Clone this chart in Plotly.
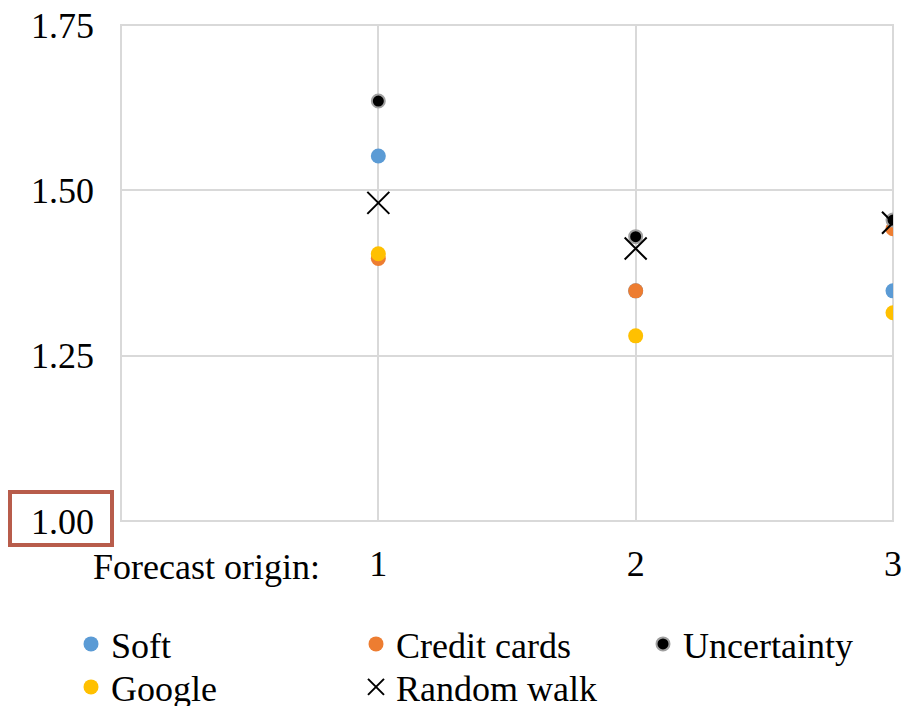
import plotly.graph_objects as go

# Forecast origins and relative error per model
origins = [1, 2, 3]
soft = [1.552, 1.348, 1.348]
credit_cards = [1.397, 1.348, 1.442]
uncertainty = [1.635, 1.430, 1.455]
google = [1.404, 1.280, 1.315]
random_walk = [1.481, 1.412, 1.451]

y_ticks = [1.00, 1.25, 1.50, 1.75]
y_tick_text = ["1.00", "1.25", "1.50", "1.75"]
x_tick_text = ["1", "2", "3"]

W, H = 905, 706
L, R, T, B = 121, 12, 25, 185
PW, PH = W - L - R, H - T - B

def px(x):
    return (x - L) / PW

def py(y):
    return (H - B - y) / PH

FONT = "Liberation Serif"
FS = 36
GRID = "#D9D9D9"

fig = go.Figure()
fig.add_trace(go.Scatter(x=origins, y=soft, mode="markers", name="Soft",
                         marker=dict(color="#5B9BD5", size=15), legend="legend"))
fig.add_trace(go.Scatter(x=origins, y=credit_cards, mode="markers", name="Credit cards",
                         marker=dict(color="#ED7D31", size=15), legend="legend2"))
fig.add_trace(go.Scatter(x=origins, y=uncertainty, mode="markers", name="Uncertainty",
                         marker=dict(color="black", size=13,
                                     line=dict(color="#A0A0A0", width=2)),
                         legend="legend3"))
fig.add_trace(go.Scatter(x=origins, y=google, mode="markers", name="Google",
                         marker=dict(color="#FFC000", size=15), legend="legend4"))
fig.add_trace(go.Scatter(x=origins, y=random_walk, mode="markers", name="Random walk",
                         marker=dict(symbol="x-thin", color="black", size=22,
                                     line=dict(color="black", width=2)),
                         legend="legend5"))

leg_common = dict(font=dict(family=FONT, size=FS, color="black"),
                  bgcolor="rgba(0,0,0,0)", orientation="v",
                  xanchor="left", yanchor="middle",
                  itemwidth=30, tracegroupgap=0)

row1, row2 = py(644), py(687)
col1, col2, col3 = px(71), px(356), px(643)

fig.update_layout(
    width=W, height=H,
    margin=dict(l=L, r=R, t=T, b=B, autoexpand=False),
    paper_bgcolor="white", plot_bgcolor="white",
    font=dict(family=FONT, size=FS, color="black"),
    showlegend=True,
    legend=dict(x=col1, y=row1, **leg_common),
    legend2=dict(x=col2, y=row1, **leg_common),
    legend3=dict(x=col3, y=row1, **leg_common),
    legend4=dict(x=col1, y=row2, **leg_common),
    legend5=dict(x=col2, y=row2, **leg_common),
    xaxis=dict(range=[0, 3], tickvals=origins, ticktext=x_tick_text,
               showgrid=True, gridcolor=GRID, gridwidth=2,
               zeroline=False, showline=False, ticks="",
               ticklabelstandoff=18,
               tickfont=dict(family=FONT, size=FS, color="black")),
    yaxis=dict(range=[1.0, 1.75], tickvals=y_ticks, ticktext=y_tick_text,
               showgrid=True, gridcolor=GRID, gridwidth=2,
               zeroline=False, showline=False,
               ticks="", ticklabelstandoff=26,
               tickfont=dict(family=FONT, size=FS, color="black")),
    annotations=[dict(text="Forecast origin:", xref="paper", yref="paper",
                      x=px(206), y=py(567), xanchor="center", yanchor="middle",
                      showarrow=False,
                      font=dict(family=FONT, size=FS, color="black"))],
    shapes=[
        # plot-area frame (edge gridlines)
        dict(type="rect", xref="paper", yref="paper", x0=0, x1=1, y0=0, y1=1,
             line=dict(color=GRID, width=2), layer="below"),
        # highlight box around the baseline tick label
        dict(type="rect", xref="paper", yref="paper",
             x0=px(10), x1=px(112), y0=py(545), y1=py(492),
             line=dict(color="#B85C4B", width=4)),
    ],
)

fig.write_html("out.html")
